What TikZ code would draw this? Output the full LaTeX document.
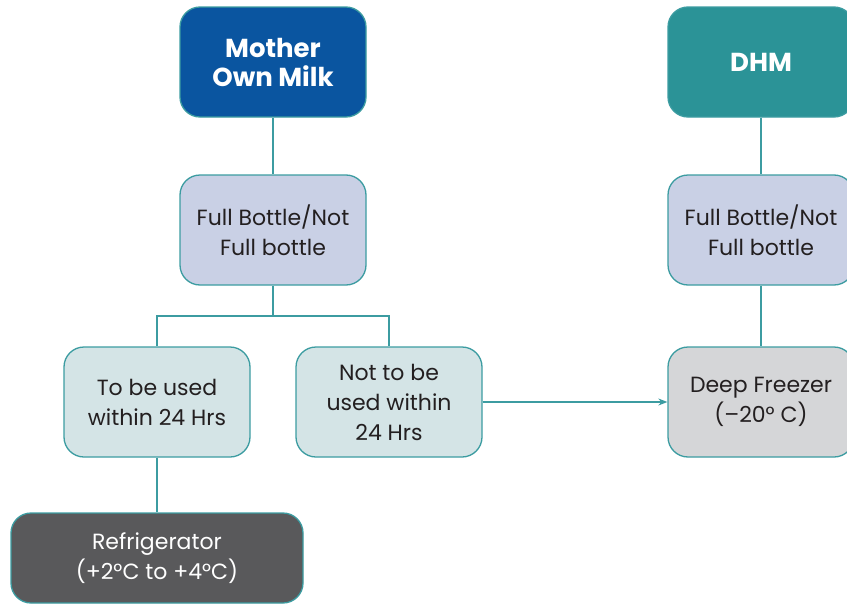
\documentclass[tikz,border=0pt]{standalone}
\usepackage{fontspec}
\setmainfont{Poppins}
\usetikzlibrary{arrows.meta}
\definecolor{edge}{HTML}{3C9CA1}
\definecolor{mblue}{HTML}{0A55A0}
\definecolor{dteal}{HTML}{2B9397}
\definecolor{lav}{HTML}{C9D0E5}
\definecolor{pale}{HTML}{D4E4E6}
\definecolor{lgrey}{HTML}{D5D6D8}
\definecolor{dgrey}{HTML}{59595B}
\definecolor{txt}{HTML}{231F20}
\tikzset{
  box/.style={draw=edge, line width=1.3pt, rounded corners=20pt, minimum width=186pt, minimum height=110pt, align=center, font=\fontsize{22}{30}\selectfont, text=txt, inner sep=2pt},
  head/.style={box, text=white, font=\fontsize{26}{29}\selectfont\bfseries},
  link/.style={draw=edge, line width=1.3pt},
  arr/.style={link, -{Stealth[length=9pt,width=7pt]}}
}
\begin{document}
\begin{tikzpicture}[x=1pt,y=-1pt]
\useasboundingbox (0,0) rectangle (847,608);
\clip (0,0) rectangle (847,608);
\node[head, fill=mblue] (mom) at (273,62) {Mother\\Own Milk};
\node[head, fill=dteal] (dhm) at (761,62) {DHM};
\node[box, fill=lav] (fb1) at (273,230) {Full Bottle/Not\\Full bottle};
\node[box, fill=lav] (fb2) at (761,230) {Full Bottle/Not\\Full bottle};
\node[box, fill=pale] (use) at (157,402) {To be used\\within 24 Hrs};
\node[box, fill=pale] (nouse) at (389,402) {Not to be\\used within\\24 Hrs};
\node[box, fill=lgrey] (deep) at (761,402) {Deep Freezer\\(–20° C)};
\node[box, fill=dgrey, text=white, minimum width=292pt, minimum height=90pt] (ref) at (157,558) {Refrigerator\\(+2°C to +4°C)};
\coordinate (split) at (273,316);
\draw[link] (mom) -- (fb1);
\draw[link] (dhm) -- (fb2);
\draw[link] (fb2) -- (deep);
\draw[link] (fb1.south) -- (split);
\draw[link] (split) -| (use.north);
\draw[link] (split) -| (nouse.north);
\draw[link] (use) -- (ref);
\draw[arr] (nouse) -- (deep);
\end{tikzpicture}
\end{document}
